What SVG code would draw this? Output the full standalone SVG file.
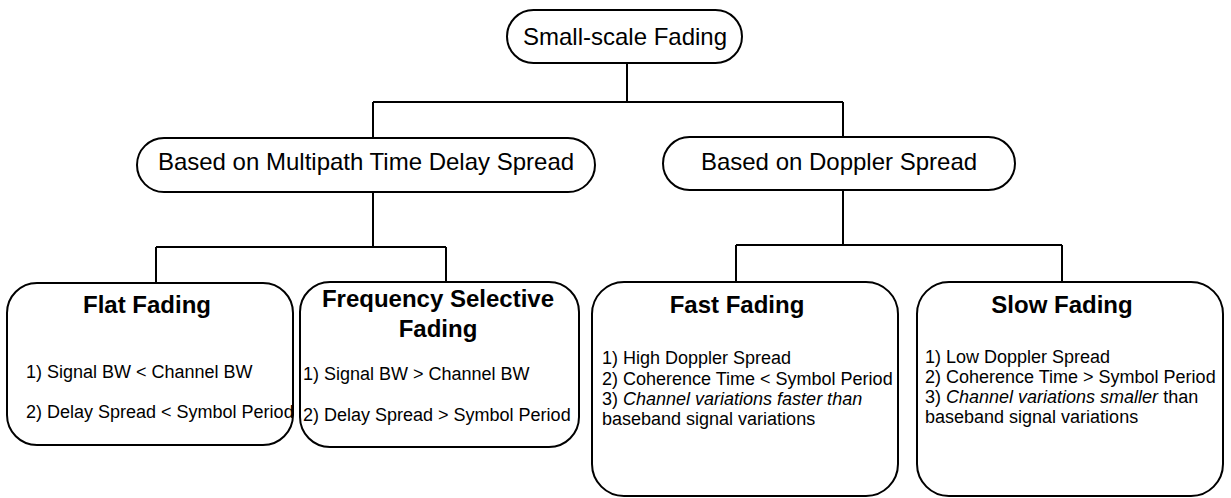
<svg xmlns="http://www.w3.org/2000/svg" width="1231" height="498" viewBox="0 0 1231 498">
  <style>
    .shape { fill: #ffffff; stroke: #000000; stroke-width: 2; }
    .wire { fill: none; stroke: #000000; stroke-width: 2; }
    .head { font-family: "Liberation Sans", Arial, sans-serif; font-size: 24px; fill: #000000; text-anchor: middle; }
    .title { font-family: "Liberation Sans", Arial, sans-serif; font-size: 24px; font-weight: bold; fill: #000000; text-anchor: middle; }
    .body { font-family: "Liberation Sans", Arial, sans-serif; font-size: 18px; fill: #000000; }
    .it { font-style: italic; }
  </style>

  <rect width="1231" height="498" fill="#ffffff"/>

  <!-- tree connectors -->
  <g id="connectors" class="wire">
    <path d="M627 63 V102 M373 102 H843 M373 102 V138 M843 102 V137"/>
    <path d="M373 192 V247 M156 247 H446 M156 247 V283 M446 247 V282"/>
    <path d="M843 190 V245 M736 245 H1062 M736 245 V282 M1062 245 V282"/>
  </g>

  <!-- root -->
  <g id="small-scale-fading">
    <rect class="shape" x="507" y="10" width="235" height="53" rx="26.5"/>
    <text class="head" x="625" y="45">Small-scale Fading</text>
  </g>

  <!-- second level -->
  <g id="multipath-delay-spread">
    <rect class="shape" x="137" y="138" width="458" height="54" rx="27"/>
    <text class="head" x="366" y="170">Based on Multipath Time Delay Spread</text>
  </g>

  <g id="doppler-spread">
    <rect class="shape" x="663" y="137" width="352" height="53" rx="26.5"/>
    <text class="head" x="839" y="170">Based on Doppler Spread</text>
  </g>

  <!-- leaves -->
  <g id="flat-fading">
    <rect class="shape" x="7" y="283" width="286" height="162" rx="30"/>
    <text class="title" x="147" y="313">Flat Fading</text>
    <text class="body" x="26" y="378">1) Signal BW &lt; Channel BW</text>
    <text class="body" x="26" y="418">2) Delay Spread &lt; Symbol Period</text>
  </g>

  <g id="frequency-selective-fading">
    <rect class="shape" x="300" y="282" width="279" height="165" rx="30"/>
    <text class="title" x="438" y="307">Frequency Selective</text>
    <text class="title" x="438" y="337">Fading</text>
    <text class="body" x="303" y="380">1) Signal BW &gt; Channel BW</text>
    <text class="body" x="303" y="421">2) Delay Spread &gt; Symbol Period</text>
  </g>

  <g id="fast-fading">
    <rect class="shape" x="592" y="282" width="306" height="214" rx="32"/>
    <text class="title" x="737" y="313">Fast Fading</text>
    <text class="body" x="602" y="364">1) High Doppler Spread</text>
    <text class="body" x="602" y="385">2) Coherence Time &lt; Symbol Period</text>
    <text class="body" x="602" y="405">3) <tspan class="it">Channel variations faster than</tspan></text>
    <text class="body" x="602" y="425">baseband signal variations</text>
  </g>

  <g id="slow-fading">
    <rect class="shape" x="917" y="282" width="306" height="214" rx="32"/>
    <text class="title" x="1062" y="313">Slow Fading</text>
    <text class="body" x="925" y="363">1) Low Doppler Spread</text>
    <text class="body" x="925" y="383">2) Coherence Time &gt; Symbol Period</text>
    <text class="body" x="925" y="403">3) <tspan class="it">Channel variations smaller</tspan> than</text>
    <text class="body" x="925" y="423">baseband signal variations</text>
  </g>
</svg>
